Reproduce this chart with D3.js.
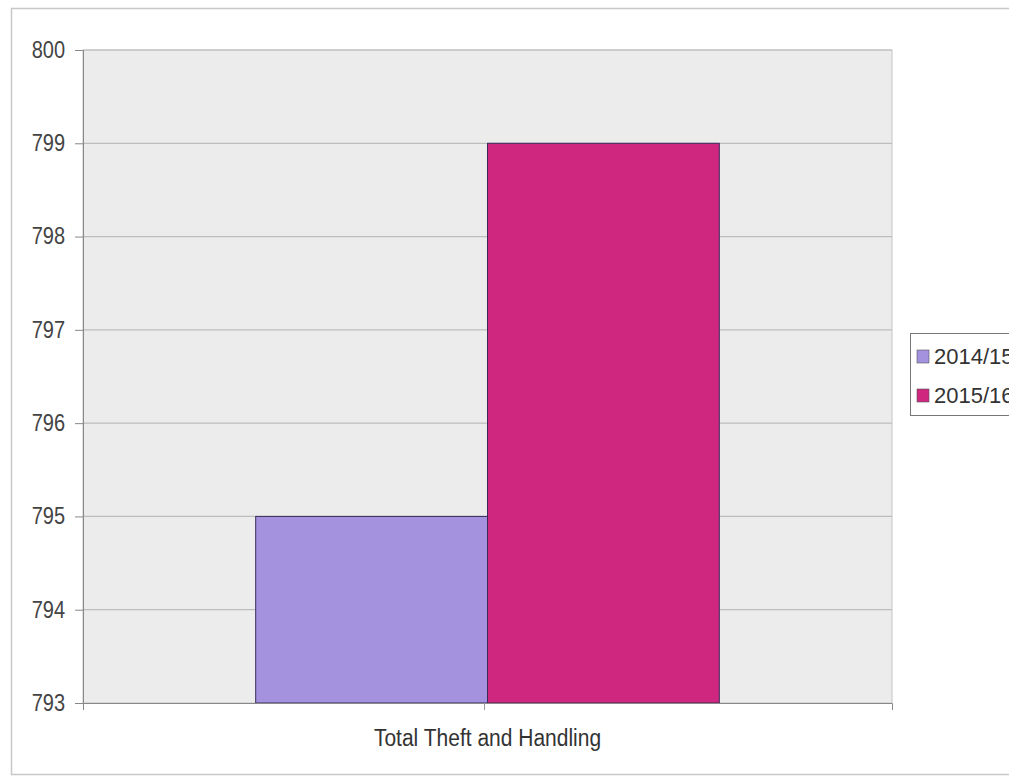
<!DOCTYPE html>
<html><head><meta charset="utf-8">
<script src="https://cdn.jsdelivr.net/npm/d3@7"></script>
<style>body{margin:0;background:#fff}svg{display:block}</style>
</head><body>
<svg id="c" width="1009" height="778"></svg>
<script>
const categories = ["Total Theft and Handling"];
const seriesNames = ["2014/15", "2015/16"];
const values2014 = [795];
const values2015 = [799];
const yTicks = [793, 794, 795, 796, 797, 798, 799, 800];
const colors = ["#a492df", "#cf2680"];

const svg = d3.select("#c");
const font = "'Liberation Sans', Arial, sans-serif";

// outer chart border
svg.append("rect").attr("x", 11.5).attr("y", 8.5).attr("width", 1010).attr("height", 766)
  .attr("fill", "#fff").attr("stroke", "#c8c8c8").attr("stroke-width", 1.5);

const L = 83, R = 892, T = 50, B = 703;
const y = d3.scaleLinear().domain([793, 800]).range([B, T]);
const x0 = d3.scaleBand().domain(categories).range([L, R]);
const x1 = d3.scaleBand().domain(seriesNames).range([0, x0.bandwidth()]).paddingOuter(0.745).paddingInner(0);

svg.append("rect").attr("x", L).attr("y", T).attr("width", R - L).attr("height", B - T)
  .attr("fill", "#ececec").attr("stroke", "#c4c4c4").attr("stroke-width", 1);

// gridlines
svg.append("g").selectAll("line").data(yTicks.slice(1)).join("line")
  .attr("x1", L).attr("x2", R).attr("y1", d => y(d)).attr("y2", d => y(d))
  .attr("stroke", "#bdbdbd").attr("stroke-width", 1.2);

// bars
const data = categories.map((c, i) => ({ c, vals: [values2014[i], values2015[i]] }));
const g = svg.append("g");
data.forEach(d => {
  d.vals.forEach((v, j) => {
    g.append("rect")
      .attr("x", x0(d.c) + x1(seriesNames[j]))
      .attr("y", y(v))
      .attr("width", x1.bandwidth())
      .attr("height", y(793) - y(v))
      .attr("fill", colors[j]).attr("stroke", "#3a2a5a").attr("stroke-width", 1);
  });
});

// y axis
const yAxis = d3.axisLeft(y).tickValues(yTicks).tickSize(8).tickPadding(10).tickFormat(d3.format("d"));
const ya = svg.append("g").attr("transform", `translate(${L},0)`).call(yAxis);
ya.select(".domain").attr("stroke", "#888");
ya.selectAll(".tick line").attr("stroke", "#888");
ya.selectAll("text").attr("font-family", font).attr("font-size", 20).attr("fill", "#444")
  .attr("transform", "scale(1,1.15)");

// x axis
const xa = svg.append("g").attr("transform", `translate(0,${B})`)
  .call(d3.axisBottom(x0).tickSize(7).tickPadding(20));
xa.select(".domain").attr("stroke", "#888");
xa.selectAll(".tick line").attr("stroke", "#999").attr("transform", "translate(-3,0)");
xa.selectAll("text").attr("font-family", font).attr("font-size", 21).attr("fill", "#333")
  .attr("dy", "0.55em").attr("transform", "scale(1,1.12)");

// legend
const lg = svg.append("g");
lg.append("rect").attr("x", 910.5).attr("y", 333.5).attr("width", 120).attr("height", 82)
  .attr("fill", "#fff").attr("stroke", "#777").attr("stroke-width", 1);
seriesNames.forEach((s, i) => {
  const yy = 356 + i * 39;
  lg.append("rect").attr("x", 917).attr("y", yy - 6).attr("width", 12).attr("height", 13)
    .attr("fill", colors[i]).attr("stroke", "#555").attr("stroke-width", 0.6);
  lg.append("text").attr("x", 934).attr("y", yy + 8).text(s)
    .attr("font-family", font).attr("font-size", 22).attr("fill", "#333");
});
</script>
</body></html>
